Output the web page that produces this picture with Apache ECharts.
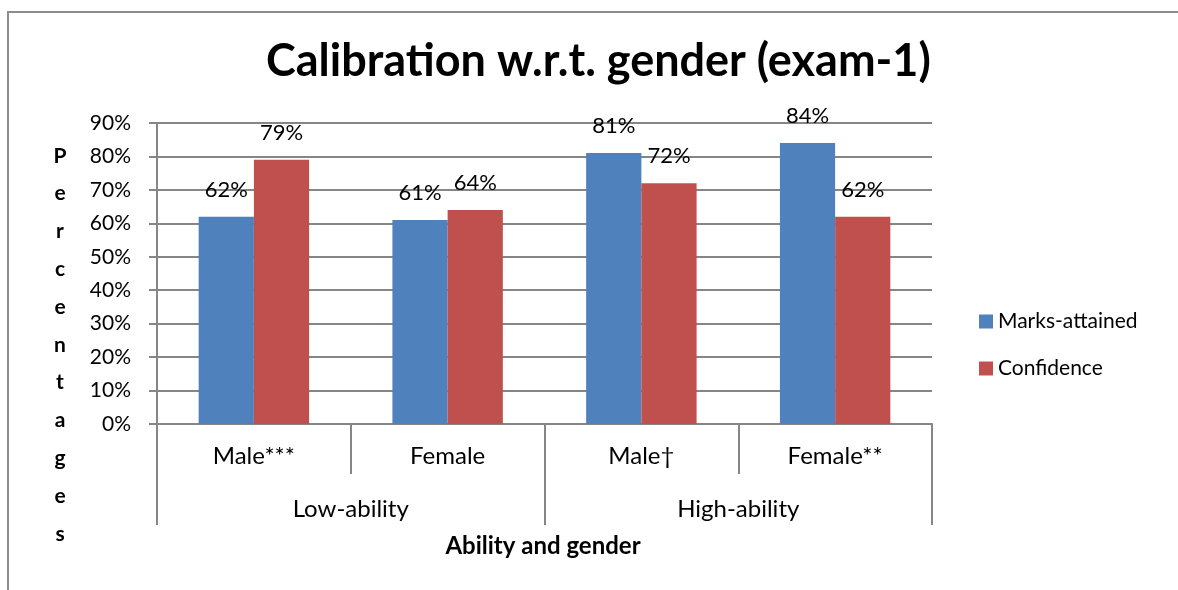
<!DOCTYPE html>
<html>
<head>
<meta charset="utf-8">
<script src="https://cdn.jsdelivr.net/npm/echarts@6/dist/echarts.min.js"></script>
<style>
  html, body { margin: 0; padding: 0; background: #fff; }
  #frame {
    position: absolute; left: 7px; top: 11px; width: 1200px; height: 600px;
    border-left: 2px solid #8c8c8c; border-top: 2px solid #8c8c8c;
  }
  #main { position: absolute; left: 0; top: 0; width: 1178px; height: 590px; }
</style>
</head>
<body>
<div id="frame"></div>
<div id="main"></div>
<script>
// chart data
const genders = ["Male***", "Female", "Male\u2020", "Female**"];
const abilityGroups = ["Low-ability", "High-ability"];
const marksAttained = [62, 61, 81, 84];
const confidence = [79, 64, 72, 62];
const yTicks = { min: 0, max: 90, step: 10 };

const font = "Lato, 'Open Sans', sans-serif";
const axisGray = "#868686";

let myChart = echarts.init(document.getElementById("main"));
myChart.setOption({
  backgroundColor: "transparent",
  textStyle: { fontFamily: font },
  title: {
    text: "Calibration w.r.t. gender (exam-1)",
    left: 261,
    top: 34,
    textStyle: { fontSize: 45, fontWeight: "bold", color: "#000", fontFamily: font }
  },
  legend: {
    orient: "vertical",
    left: 974,
    top: 306,
    itemWidth: 14,
    itemHeight: 14,
    itemGap: 26,
    icon: "rect",
    textStyle: { fontSize: 21, color: "#000", fontFamily: font },
    data: ["Marks-attained", "Confidence"]
  },
  grid: { left: 157, right: 246, top: 123, bottom: 166 },
  xAxis: [
    {
      type: "category",
      data: genders,
      position: "bottom",
      axisLine: { lineStyle: { color: axisGray, width: 2 } },
      axisTick: { show: true, interval: 0, length: 50, lineStyle: { color: axisGray, width: 2 } },
      axisLabel: { fontSize: 24, color: "#000", margin: 20, fontFamily: font, interval: 0 }
    },
    {
      type: "category",
      data: abilityGroups,
      position: "bottom",
      axisLine: { show: false },
      axisTick: { show: true, interval: 0, length: 101, lineStyle: { color: axisGray, width: 2 } },
      axisLabel: { fontSize: 24, color: "#000", margin: 73, fontFamily: font, interval: 0 }
    }
  ],
  yAxis: {
    type: "value",
    min: yTicks.min,
    max: yTicks.max,
    interval: yTicks.step,
    axisLine: { show: true, lineStyle: { color: axisGray, width: 2 } },
    axisTick: { show: true, length: 8, lineStyle: { color: axisGray, width: 2 } },
    splitLine: { lineStyle: { color: axisGray, width: 2 } },
    axisLabel: { formatter: "{value}%", fontSize: 21, color: "#000", margin: 26, fontFamily: font }
  },
  series: [
    {
      name: "Marks-attained",
      type: "bar",
      xAxisIndex: 0,
      data: marksAttained,
      barGap: "0%",
      barCategoryGap: "43%",
      itemStyle: { color: "#4F81BD" },
      label: { show: true, position: "top", distance: 16, formatter: "{c}%", fontSize: 22, color: "#000", fontFamily: font }
    },
    {
      name: "Confidence",
      type: "bar",
      xAxisIndex: 0,
      data: confidence,
      barGap: "0%",
      barCategoryGap: "43%",
      itemStyle: { color: "#C0504D" },
      label: { show: true, position: "top", distance: 16, formatter: "{c}%", fontSize: 22, color: "#000", fontFamily: font }
    }
  ],
  graphic: [
    {
      type: "text",
      x: 60,
      y: 137,
      style: {
        text: "P\ne\nr\nc\ne\nn\nt\na\ng\ne\ns",
        fontSize: 21,
        fontWeight: "bold",
        fontFamily: font,
        lineHeight: 37.8,
        align: "center",
        verticalAlign: "top",
        fill: "#000"
      }
    },
    {
      type: "text",
      x: 543,
      y: 534,
      style: {
        text: "Ability and gender",
        fontSize: 24,
        fontWeight: "bold",
        fontFamily: font,
        align: "center",
        verticalAlign: "top",
        fill: "#000"
      }
    }
  ]
});
</script>
</body>
</html>
